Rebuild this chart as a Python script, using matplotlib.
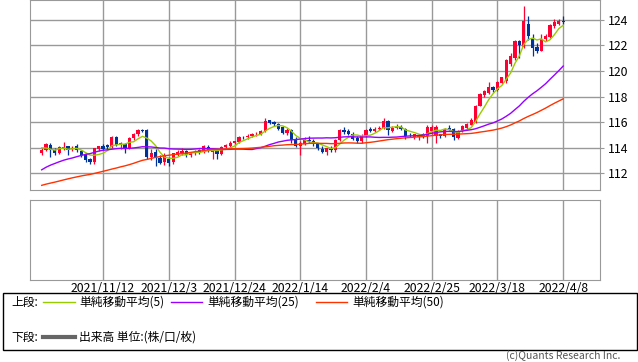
import matplotlib
matplotlib.use("Agg")
import matplotlib.pyplot as plt
from matplotlib.lines import Line2D
from matplotlib.patches import Rectangle
import numpy as np
import pandas as pd

plt.rcParams['font.family'] = ['Noto Sans CJK JP', 'DejaVu Sans']

# closes before the visible window (2021/8/16 - 2021/10/22), used for the moving averages
hist_close = [
    109.25, 109.62, 109.77, 109.76, 109.79, 109.70, 109.67, 110.02, 110.08, 109.84, 109.91, 110.02,
    110.02, 109.93, 109.71, 109.83, 110.28, 110.26, 109.72, 109.93, 110.01, 109.68, 109.38, 109.71,
    109.94, 109.40, 109.23, 109.79, 110.31, 110.73, 111.00, 111.48, 111.97, 111.29,
    111.05, 110.93, 111.43, 111.41, 111.63, 112.21, 113.27, 113.58, 113.26, 113.68, 114.21, 114.35,
    114.36, 114.30, 113.98, 113.50,
]

# daily candles 2021/10/25 - 2022/4/8
opens = [
    113.60, 113.85, 114.25, 113.85, 113.60, 113.95, 114.10, 113.90, 114.10, 113.75,
    113.45, 113.10, 112.85, 113.90, 114.15, 114.20, 114.05, 114.80, 114.25, 114.30,
    113.95, 114.75, 115.05, 115.40, 115.35, 113.30, 113.65, 113.20, 112.85, 113.10,
    112.85, 113.45, 113.55, 113.75, 113.45, 113.55, 113.80, 113.70, 114.05, 113.65,
    113.75, 113.50, 114.05, 114.15, 114.40, 114.45, 114.85, 114.80, 114.95, 115.05,
    115.10, 115.30, 116.15, 116.05, 115.85, 115.60, 115.15, 115.35, 114.70, 114.10,
    114.30, 114.60, 114.55, 114.30, 113.90, 113.70, 113.90, 113.85, 114.60, 115.40,
    115.30, 115.10, 114.75, 114.55, 114.95, 115.50, 115.30, 115.45, 115.55, 116.10,
    115.30, 115.55, 115.60, 115.50, 114.95, 114.80, 114.80, 115.05, 114.90, 115.30,
    114.90, 115.05, 114.90, 115.55, 115.45, 114.75, 115.35, 115.55, 115.80, 116.05,
    117.30, 118.15, 118.25, 118.75, 118.55, 119.10, 119.20, 120.55, 121.00, 122.35,
    121.90, 123.70, 122.50, 121.90, 121.60, 122.50, 122.70, 123.55, 123.70, 123.95,
]
highs = [
    113.95, 114.40, 114.35, 113.95, 114.10, 114.45, 114.15, 114.15, 114.30, 113.85,
    113.55, 113.20, 114.00, 114.15, 114.30, 114.30, 114.90, 114.95, 114.45, 114.40,
    114.85, 115.15, 115.50, 115.50, 115.45, 113.90, 113.90, 113.40, 113.60, 113.30,
    113.60, 113.80, 113.95, 113.85, 113.65, 113.80, 113.90, 114.25, 114.20, 113.95,
    113.85, 114.15, 114.30, 114.50, 114.55, 114.90, 114.95, 115.05, 115.15, 115.20,
    115.40, 116.35, 116.20, 116.10, 115.90, 115.70, 115.55, 115.45, 114.85, 114.50,
    114.80, 114.90, 114.65, 114.40, 114.10, 114.00, 114.10, 114.70, 115.50, 115.65,
    115.45, 115.25, 114.90, 115.10, 115.50, 115.60, 115.60, 115.70, 116.35, 116.20,
    115.70, 115.85, 115.75, 115.55, 115.15, 115.10, 115.10, 115.15, 115.75, 115.75,
    115.75, 115.10, 115.55, 115.75, 115.55, 115.35, 115.80, 115.95, 116.30, 117.35,
    118.25, 118.50, 119.15, 118.80, 119.20, 119.55, 120.95, 121.40, 122.45, 122.45,
    125.10, 124.30, 122.90, 122.20, 122.90, 122.90, 123.70, 124.05, 124.05, 124.30,
]
lows = [
    113.45, 113.75, 113.30, 113.40, 113.50, 113.80, 113.40, 113.75, 113.65, 113.30,
    112.90, 112.70, 112.75, 113.75, 113.80, 113.85, 114.00, 114.10, 113.90, 113.60,
    113.90, 114.60, 114.95, 115.25, 113.10, 113.05, 112.60, 112.70, 112.65, 112.55,
    112.75, 113.35, 113.40, 113.25, 113.25, 113.40, 113.50, 113.55, 113.65, 113.15,
    113.15, 113.45, 113.90, 114.05, 114.25, 114.40, 114.70, 114.70, 114.85, 114.95,
    115.00, 115.20, 115.85, 115.70, 115.40, 115.05, 115.00, 114.40, 114.05, 113.45,
    114.25, 114.40, 114.10, 113.85, 113.60, 113.45, 113.65, 113.70, 114.50, 115.10,
    115.00, 114.60, 114.35, 114.40, 114.80, 115.20, 115.20, 115.40, 115.50, 115.00,
    115.20, 115.45, 115.35, 114.70, 114.85, 114.70, 114.60, 114.75, 114.40, 115.10,
    114.40, 114.75, 114.80, 115.35, 114.60, 114.70, 115.25, 115.50, 115.75, 115.95,
    117.25, 117.95, 118.20, 118.35, 118.40, 118.95, 119.10, 120.40, 120.90, 121.00,
    121.80, 122.40, 121.20, 121.45, 121.55, 122.35, 122.60, 123.40, 123.60, 123.70,
]
closes = [
    113.80, 114.30, 113.85, 113.60, 114.05, 114.05, 113.85, 114.00, 113.80, 113.40,
    113.05, 112.85, 113.95, 114.10, 113.90, 114.05, 114.80, 114.25, 114.35, 113.95,
    114.75, 115.05, 115.40, 115.30, 113.25, 113.60, 113.25, 112.80, 113.45, 112.80,
    113.55, 113.65, 113.75, 113.45, 113.55, 113.70, 113.70, 114.10, 113.80, 113.75,
    113.50, 114.05, 114.20, 114.40, 114.50, 114.85, 114.80, 114.95, 115.10, 115.10,
    115.30, 116.10, 115.95, 115.85, 115.50, 115.15, 115.35, 114.60, 114.15, 114.40,
    114.60, 114.55, 114.30, 113.95, 113.70, 113.95, 113.80, 114.60, 115.35, 115.25,
    115.10, 114.70, 114.55, 114.95, 115.40, 115.30, 115.45, 115.55, 116.10, 115.40,
    115.55, 115.60, 115.45, 114.95, 114.90, 115.05, 115.00, 114.90, 115.65, 115.65,
    115.65, 114.90, 115.50, 115.40, 114.85, 115.25, 115.70, 115.85, 116.20, 117.25,
    118.20, 118.40, 118.75, 118.55, 119.15, 119.50, 120.85, 121.20, 122.35, 122.05,
    123.95, 122.75, 121.80, 121.60, 122.50, 122.75, 123.60, 123.80, 123.95, 123.80,
]

grid_labels = ['2021/11/12', '2021/12/3', '2021/12/24', '2022/1/14',
               '2022/2/4', '2022/2/25', '2022/3/18', '2022/4/8']
y_ticks = [112, 114, 116, 118, 120, 122, 124]

ma_periods = [5, 25, 50]
ma_colors = ['#99cc00', '#9900ff', '#ff3300']
ma_labels = ['単純移動平均(5)', '単純移動平均(25)', '単純移動平均(50)']

dates = pd.bdate_range('2021-10-25', '2022-04-08')
x = np.arange(len(dates))
o = np.array(opens)
h = np.array(highs)
l = np.array(lows)
c = np.array(closes)

all_close = pd.Series(hist_close + closes)
n_hist = len(hist_close)

grid_x = [dates.get_loc(pd.Timestamp(s.replace('/', '-'))) for s in grid_labels]

W, H = 638, 362
fig = plt.figure(figsize=(W / 100, H / 100), dpi=100)
grid_col = '#999999'

ax = fig.add_axes([30 / W, 1 - 190 / H, 570 / W, 190 / H])
ax2 = fig.add_axes([30 / W, 1 - 280 / H, 570 / W, 80 / H])

# candles: red = up, blue = down
up = c >= o
body_col = np.where(up, '#ff0033', '#003399')
ax.vlines(x, l, h, colors=body_col, linewidth=0.9, zorder=3)
body_h = np.maximum(np.abs(c - o), 0.04)
ax.bar(x, body_h, bottom=np.minimum(o, c), width=0.74, color=body_col,
       linewidth=0, zorder=4)

# moving averages
for p, col in zip(ma_periods, ma_colors):
    ma = all_close.rolling(p).mean().values[n_hist:]
    ax.plot(x, ma, color=col, linewidth=1.0, zorder=5)

ax.set_xlim(-2.67, 127.4)
ax.set_ylim(110.69, 125.56)
ax.set_yticks(y_ticks)
ax.set_xticks(grid_x)
ax.grid(True, color=grid_col, linewidth=1.0, zorder=0)
ax.set_axisbelow(True)
ax.yaxis.tick_right()
ax.tick_params(axis='y', length=3, color=grid_col, labelsize=8.8, pad=3)
ax.tick_params(axis='x', length=0, labelbottom=False)
for sp in ax.spines.values():
    sp.set_color(grid_col)

ax2.set_xlim(-2.67, 127.4)
ax2.set_ylim(0, 1)
ax2.set_yticks([])
ax2.set_xticks(grid_x)
ax2.set_xticklabels(grid_labels)
ax2.grid(True, axis='x', color=grid_col, linewidth=1.0)
ax2.tick_params(axis='x', length=0, labelsize=8.8, pad=1.5)
for sp in ax2.spines.values():
    sp.set_color(grid_col)

# legend box
def fx(px):
    return px / W

def fy(py):
    return 1 - py / H

fig.patches.append(Rectangle((fx(3), fy(350)), fx(634) - fx(0), fy(293) - fy(350),
                             transform=fig.transFigure, fill=False,
                             edgecolor='black', linewidth=1.0))
row1, row2 = 302, 337
fig.text(fx(11), fy(row1), '上段:', fontsize=8.5, va='center')
line_x = [(43, 75), (171, 202), (316, 347)]
text_x = [79, 207, 352]
for (a, b), tx, col, lab in zip(line_x, text_x, ma_colors, ma_labels):
    fig.add_artist(Line2D([fx(a), fx(b)], [fy(row1), fy(row1)], color=col,
                          linewidth=1.0, transform=fig.transFigure))
    fig.text(fx(tx), fy(row1), lab, fontsize=8.5, va='center')

fig.text(fx(11), fy(row2), '下段:', fontsize=8.5, va='center')
fig.add_artist(Line2D([fx(43), fx(75)], [fy(row2), fy(row2)], color='#666666',
                      linewidth=3.0, transform=fig.transFigure))
fig.text(fx(79), fy(row2), '出来高 単位:(株/口/枚)', fontsize=8.5, va='center')

fig.text(fx(620), fy(356), '(c)Quants Research Inc.', fontsize=7.5,
         color='#555555', ha='right', va='center')

fig.savefig('out.png', dpi=100)
